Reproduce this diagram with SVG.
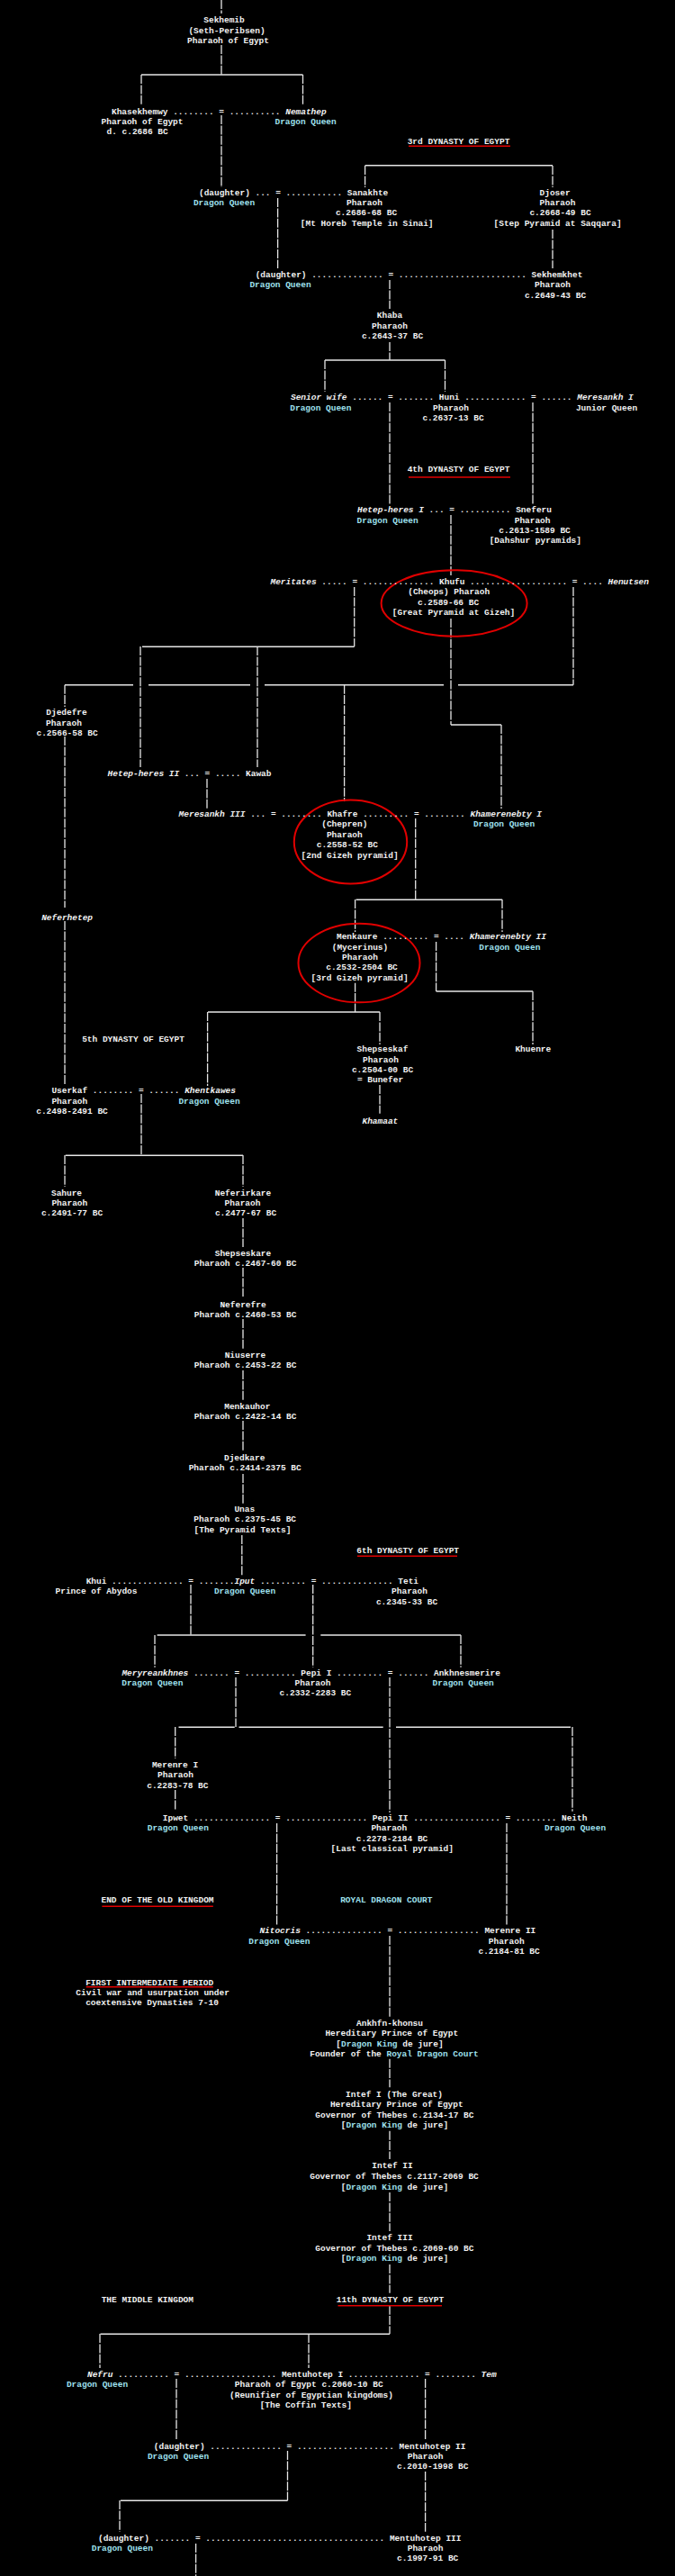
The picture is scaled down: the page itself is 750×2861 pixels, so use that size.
<svg xmlns="http://www.w3.org/2000/svg" width="750" height="2861" viewBox="0 0 750 2861">
<style>
.t{font-family:"Liberation Mono","DejaVu Sans Mono",monospace;font-size:9.47px;font-weight:bold;fill:#f2f2f2;white-space:pre}
.m{text-anchor:middle}
.q{fill:#9fe0ee}
.i{font-style:italic}
.v{stroke:#e6e6e6;stroke-width:1.3;stroke-dasharray:10 1.4;fill:none}
.h{stroke:#e6e6e6;stroke-width:1.6;fill:none}
.r{stroke:#e00000;stroke-width:1.5}
.e{fill:none;stroke:#e00000;stroke-width:2}
</style>
<rect x="0" y="0" width="750" height="2861" fill="#000"/>
<g id="connectors">
<path class="v" d="M246 0V15 M246 50V83 M157 83V117 M336.5 83V117 M246 128V208 M405.6 184V208 M614 184V208 M308.6 220V298 M614 255V298 M433 311V343 M433 380V400 M361 400V435 M494.5 400V435 M433 447V560 M592 447V560 M501 572V640 M393.7 652V718 M156 718V852 M286 718V852 M501 687V805 M557 805V898 M637 652V760.7 M72 760.7V785 M382.6 760.7V890 M72 818V1008 M72 1023V1205 M230 865V898 M461.7 909V999.3 M394.6 999V1035 M558 999V1035 M484.6 1046V1101 M592 1101V1160 M394.6 1091.7V1124 M230.6 1124V1206 M422 1124V1160 M422 1205V1236.7 M157 1215V1283.3 M72 1283V1318 M270 1283V1318 M270 1353V1385 M270 1408V1440 M270 1465V1498 M270 1522V1555 M270 1578V1612 M270 1637V1670 M268.8 1705V1750 M212 1760V1816 M172 1816V1851.7 M512 1816V1851.7 M347.7 1760V1851.7 M262 1863V1918 M433 1863V2013 M194.7 1918V1953 M636 1918V2011.7 M194.7 1988V2010 M307.6 2025V2138 M563 2025V2138 M433 2150V2240 M433 2286.7V2318.3 M433 2366.7V2398 M433 2435V2478 M433 2515V2546.7 M433 2560.7V2592.3 M111 2592V2630 M343 2592V2630 M196 2642V2710 M472.6 2642V2710 M319.5 2722V2777.3 M133 2777V2811.7 M472.6 2745V2811.7 M217.6 2825V2861"/>
<path class="h" d="M157 83H336.5 M405.6 183.7H614 M361 400H494.5 M158 718.3H393.7 M501 805H557 M72 760.7H148 M165 760.7H278 M294 760.7H493 M509 760.7H637 M395.6 999.3H558 M484.6 1101H592 M231 1124H422 M72.7 1283.3H270 M174.6 1816H339.6 M356.3 1816H512 M198.5 1918.3H260.7 M265.5 1918.3H425.7 M440 1918.3H634 M111.5 2592.3H433 M134 2777.3H319.5"/>
</g>
<g id="annotations">
<line class="r" x1="454" y1="162.3" x2="567" y2="162.3"/>
<line class="r" x1="454" y1="530" x2="567" y2="530"/>
<line class="r" x1="397" y1="1728.3" x2="508" y2="1728.3"/>
<line class="r" x1="113.4" y1="2117.3" x2="236.8" y2="2117.3"/>
<line class="r" x1="95.7" y1="2206.7" x2="236.8" y2="2206.7"/>
<line class="r" x1="375.5" y1="2560.7" x2="491" y2="2560.7"/>
<ellipse class="e" cx="504.6" cy="670" rx="81" ry="36.7"/>
<ellipse class="e" cx="389.5" cy="935" rx="62.7" ry="46.5"/>
<ellipse class="e" cx="399" cy="1069.5" rx="67.5" ry="43.8"/>
<text class="t m" x="509.5" y="160">3rd DYNASTY OF EGYPT</text>
<text class="t m" x="509.5" y="524">4th DYNASTY OF EGYPT</text>
<text class="t m" x="148" y="1157.3">5th DYNASTY OF EGYPT</text>
<text class="t m" x="453.2" y="1724.6">6th DYNASTY OF EGYPT</text>
<text class="t m" x="175" y="2113.3">END OF THE OLD KINGDOM</text>
<text class="t m q" x="429.3" y="2113.3">ROYAL DRAGON COURT</text>
<text class="t m" x="166.2" y="2205">FIRST INTERMEDIATE PERIOD</text>
<text class="t m" x="169.6" y="2216">Civil war and usurpation under</text>
<text class="t m" x="169" y="2227.3">coextensive Dynasties 7-10</text>
<text class="t m" x="163.8" y="2557.3">THE MIDDLE KINGDOM</text>
<text class="t m" x="433.4" y="2556.6">11th DYNASTY OF EGYPT</text>
</g>
<g id="sekhemib">
<text class="t m" x="249" y="25">Sekhemib</text>
<text class="t m" x="252" y="36.6">(Seth-Peribsen)</text>
<text class="t m" x="253.5" y="47.6">Pharaoh of Egypt</text>
</g>
<g id="khasekhemwy-nemathep">
<text class="t" x="124" y="126.6">Khasekhemwy ........ = .......... <tspan class="i">Nemathep</tspan></text>
<text class="t m" x="158" y="137.6">Pharaoh of Egypt</text>
<text class="t m" x="152.6" y="149">d. c.2686 BC</text>
<text class="t m q" x="339.6" y="137.6">Dragon Queen</text>
</g>
<g id="daughter1-sanakhte">
<text class="t" x="221" y="216.6">(daughter) ... = ........... Sanakhte</text>
<text class="t m q" x="249" y="228.3">Dragon Queen</text>
<text class="t m" x="405" y="228.3">Pharaoh</text>
<text class="t m" x="407" y="239">c.2686-68 BC</text>
<text class="t m" x="407.7" y="250.6">[Mt Horeb Temple in Sinai]</text>
</g>
<g id="djoser">
<text class="t m" x="616.6" y="216.6">Djoser</text>
<text class="t m" x="619.5" y="228.3">Pharaoh</text>
<text class="t m" x="622.5" y="239">c.2668-49 BC</text>
<text class="t m" x="619.6" y="250.6">[Step Pyramid at Saqqara]</text>
</g>
<g id="daughter2-sekhemkhet">
<text class="t" x="283.7" y="308.3">(daughter) .............. = ......................... Sekhemkhet</text>
<text class="t m q" x="311.5" y="319.3">Dragon Queen</text>
<text class="t m" x="614" y="319.3">Pharaoh</text>
<text class="t m" x="617" y="330.6">c.2649-43 BC</text>
</g>
<g id="khaba">
<text class="t m" x="433" y="353.3">Khaba</text>
<text class="t m" x="433" y="365">Pharaoh</text>
<text class="t m" x="436" y="376">c.2643-37 BC</text>
</g>
<g id="huni">
<text class="t" x="323" y="444.3"><tspan class="i">Senior wife</tspan> ...... = ....... Huni ............ = ...... <tspan class="i">Meresankh I</tspan></text>
<text class="t m q" x="356.4" y="456">Dragon Queen</text>
<text class="t m" x="501" y="456">Pharaoh</text>
<text class="t m" x="503.5" y="467.3">c.2637-13 BC</text>
<text class="t m" x="674" y="456">Junior Queen</text>
</g>
<g id="sneferu">
<text class="t" x="397" y="569.3"><tspan class="i">Hetep-heres I</tspan> ... = .......... Sneferu</text>
<text class="t m q" x="430.6" y="581">Dragon Queen</text>
<text class="t m" x="591.6" y="581">Pharaoh</text>
<text class="t m" x="594" y="592">c.2613-1589 BC</text>
<text class="t m" x="594.8" y="603.3">[Dahshur pyramids]</text>
</g>
<g id="khufu">
<text class="t" x="300.5" y="649"><tspan class="i">Meritates</tspan> ..... = .............. Khufu ................... = .... <tspan class="i">Henutsen</tspan></text>
<text class="t m" x="498.7" y="660.3">(Cheops) Pharaoh</text>
<text class="t m" x="498" y="671.6">c.2589-66 BC</text>
<text class="t m" x="504" y="683.3">[Great Pyramid at Gizeh]</text>
</g>
<g id="djedefre">
<text class="t m" x="74" y="794.3">Djedefre</text>
<text class="t m" x="71" y="805.6">Pharaoh</text>
<text class="t m" x="74.6" y="817">c.2566-58 BC</text>
</g>
<g id="kawab">
<text class="t" x="119.6" y="862.3"><tspan class="i">Hetep-heres II</tspan> ... = ..... Kawab</text>
</g>
<g id="khafre">
<text class="t" x="198.6" y="906.6"><tspan class="i">Meresankh III</tspan> ... = ........ Khafre ......... = ........ <tspan class="i">Khamerenebty I</tspan></text>
<text class="t m" x="382.8" y="918.3">(Chepren)</text>
<text class="t m" x="382.8" y="930">Pharaoh</text>
<text class="t m" x="385.8" y="941">c.2558-52 BC</text>
<text class="t m" x="388.6" y="952.6">[2nd Gizeh pyramid]</text>
<text class="t m q" x="560" y="918.3">Dragon Queen</text>
</g>
<g id="neferhetep">
<text class="t m i" x="74.6" y="1021.6">Neferhetep</text>
</g>
<g id="menkaure">
<text class="t" x="374" y="1043.3">Menkaure ......... = .... <tspan class="i">Khamerenebty II</tspan></text>
<text class="t m" x="400" y="1055">(Mycerinus)</text>
<text class="t m" x="400" y="1066">Pharaoh</text>
<text class="t m" x="402" y="1077.3">c.2532-2504 BC</text>
<text class="t m" x="399.6" y="1089">[3rd Gizeh pyramid]</text>
<text class="t m q" x="566.3" y="1055">Dragon Queen</text>
</g>
<g id="khuenre">
<text class="t m" x="592.3" y="1168.3">Khuenre</text>
</g>
<g id="shepseskaf">
<text class="t m" x="425" y="1168.3">Shepseskaf</text>
<text class="t m" x="423" y="1180">Pharaoh</text>
<text class="t m" x="425" y="1191.3">c.2504-00 BC</text>
<text class="t m" x="422.5" y="1201.6">= Bunefer</text>
</g>
<g id="khamaat">
<text class="t m i" x="422.4" y="1247.6">Khamaat</text>
</g>
<g id="userkaf">
<text class="t" x="57.4" y="1214.3">Userkaf ........ = ...... <tspan class="i">Khentkawes</tspan></text>
<text class="t m" x="77.3" y="1225.6">Pharaoh</text>
<text class="t m" x="80" y="1236.6">c.2498-2491 BC</text>
<text class="t m q" x="232.5" y="1225.6">Dragon Queen</text>
</g>
<g id="sahure">
<text class="t m" x="74" y="1328.3">Sahure</text>
<text class="t m" x="77.3" y="1339.3">Pharaoh</text>
<text class="t m" x="80" y="1350.3">c.2491-77 BC</text>
</g>
<g id="neferirkare">
<text class="t m" x="270" y="1327.6">Neferirkare</text>
<text class="t m" x="269.5" y="1339.3">Pharaoh</text>
<text class="t m" x="273" y="1350.3">c.2477-67 BC</text>
</g>
<g id="shepseskare">
<text class="t m" x="270" y="1395">Shepseskare</text>
<text class="t m" x="272.6" y="1406">Pharaoh c.2467-60 BC</text>
</g>
<g id="neferefre">
<text class="t m" x="270" y="1451.6">Neferefre</text>
<text class="t m" x="272.6" y="1462.6">Pharaoh c.2460-53 BC</text>
</g>
<g id="niuserre">
<text class="t m" x="272.4" y="1508.3">Niuserre</text>
<text class="t m" x="272.6" y="1519.3">Pharaoh c.2453-22 BC</text>
</g>
<g id="menkauhor">
<text class="t m" x="274.8" y="1565">Menkauhor</text>
<text class="t m" x="272.6" y="1576">Pharaoh c.2422-14 BC</text>
</g>
<g id="djedkare">
<text class="t m" x="271.7" y="1622.3">Djedkare</text>
<text class="t m" x="272.2" y="1633.3">Pharaoh c.2414-2375 BC</text>
</g>
<g id="unas">
<text class="t m" x="271.8" y="1679">Unas</text>
<text class="t m" x="272.2" y="1690">Pharaoh c.2375-45 BC</text>
<text class="t m" x="269.5" y="1701.6">[The Pyramid Texts]</text>
</g>
<g id="khui-iput-teti">
<text class="t" x="95.7" y="1758.6">Khui .............. = .......<tspan class="i">Iput</tspan> ......... = .............. Teti</text>
<text class="t m" x="107" y="1770">Prince of Abydos</text>
<text class="t m q" x="272" y="1770">Dragon Queen</text>
<text class="t m" x="455" y="1770">Pharaoh</text>
<text class="t m" x="452" y="1781.6">c.2345-33 BC</text>
</g>
<g id="pepi1">
<text class="t" x="135.4" y="1861"><tspan class="i">Meryreankhnes</tspan> ....... = .......... Pepi I ......... = ...... Ankhnesmerire</text>
<text class="t m q" x="169.3" y="1872.3">Dragon Queen</text>
<text class="t m" x="347.5" y="1872.3">Pharaoh</text>
<text class="t m" x="350.4" y="1883.3">c.2332-2283 BC</text>
<text class="t m q" x="514.7" y="1872.3">Dragon Queen</text>
</g>
<g id="merenre1">
<text class="t m" x="194.5" y="1963.3">Merenre I</text>
<text class="t m" x="195" y="1974.3">Pharaoh</text>
<text class="t m" x="197.3" y="1985.6">c.2283-78 BC</text>
</g>
<g id="pepi2">
<text class="t" x="180.8" y="2022.3">Ipwet ............... = ................ Pepi II ................. = ........ Neith</text>
<text class="t m q" x="197.8" y="2033.3">Dragon Queen</text>
<text class="t m" x="432.3" y="2033.3">Pharaoh</text>
<text class="t m" x="435.5" y="2044.6">c.2278-2184 BC</text>
<text class="t m" x="435.8" y="2056">[Last classical pyramid]</text>
<text class="t m q" x="639" y="2033.3">Dragon Queen</text>
</g>
<g id="merenre2">
<text class="t" x="288.4" y="2147.3"><tspan class="i">Nitocris</tspan> ............... = ................ Merenre II</text>
<text class="t m q" x="310.4" y="2159">Dragon Queen</text>
<text class="t m" x="562.7" y="2159">Pharaoh</text>
<text class="t m" x="565.6" y="2170">c.2184-81 BC</text>
</g>
<g id="ankhfn-khonsu">
<text class="t m" x="433" y="2250">Ankhfn-khonsu</text>
<text class="t m" x="435.3" y="2261.3">Hereditary Prince of Egypt</text>
<text class="t m" x="433" y="2272.6">[<tspan class="q">Dragon King</tspan> de jure]</text>
<text class="t m" x="438" y="2284">Founder of the <tspan class="q">Royal Dragon Court</tspan></text>
</g>
<g id="intef1">
<text class="t m" x="438" y="2329">Intef I (The Great)</text>
<text class="t m" x="440.8" y="2340.3">Hereditary Prince of Egypt</text>
<text class="t m" x="438.4" y="2351.6">Governor of Thebes c.2134-17 BC</text>
<text class="t m" x="438.4" y="2363.3">[<tspan class="q">Dragon King</tspan> de jure]</text>
</g>
<g id="intef2">
<text class="t m" x="436" y="2408.3">Intef II</text>
<text class="t m" x="438" y="2419.6">Governor of Thebes c.2117-2069 BC</text>
<text class="t m" x="438.4" y="2431.6">[<tspan class="q">Dragon King</tspan> de jure]</text>
</g>
<g id="intef3">
<text class="t m" x="433" y="2488.3">Intef III</text>
<text class="t m" x="438.4" y="2499.6">Governor of Thebes c.2069-60 BC</text>
<text class="t m" x="438.4" y="2511">[<tspan class="q">Dragon King</tspan> de jure]</text>
</g>
<g id="mentuhotep1">
<text class="t" x="97" y="2640"><tspan class="i">Nefru</tspan> .......... = .................. Mentuhotep I .............. = ........ <tspan class="i">Tem</tspan></text>
<text class="t m q" x="108" y="2651.3">Dragon Queen</text>
<text class="t m" x="343.2" y="2651.3">Pharaoh of Egypt c.2060-10 BC</text>
<text class="t m" x="346" y="2662.6">(Reunifier of Egyptian kingdoms)</text>
<text class="t m" x="339.8" y="2674.3">[The Coffin Texts]</text>
</g>
<g id="mentuhotep2">
<text class="t" x="170.8" y="2720">(daughter) .............. = ................... Mentuhotep II</text>
<text class="t m q" x="198" y="2731">Dragon Queen</text>
<text class="t m" x="472.6" y="2731">Pharaoh</text>
<text class="t m" x="480.7" y="2742.3">c.2010-1998 BC</text>
</g>
<g id="mentuhotep3">
<text class="t" x="109" y="2822.3">(daughter) ....... = ................................... Mentuhotep III</text>
<text class="t m q" x="135.8" y="2833.3">Dragon Queen</text>
<text class="t m" x="472.6" y="2833.3">Pharaoh</text>
<text class="t m" x="475.2" y="2844.3">c.1997-91 BC</text>
</g>
</svg>
